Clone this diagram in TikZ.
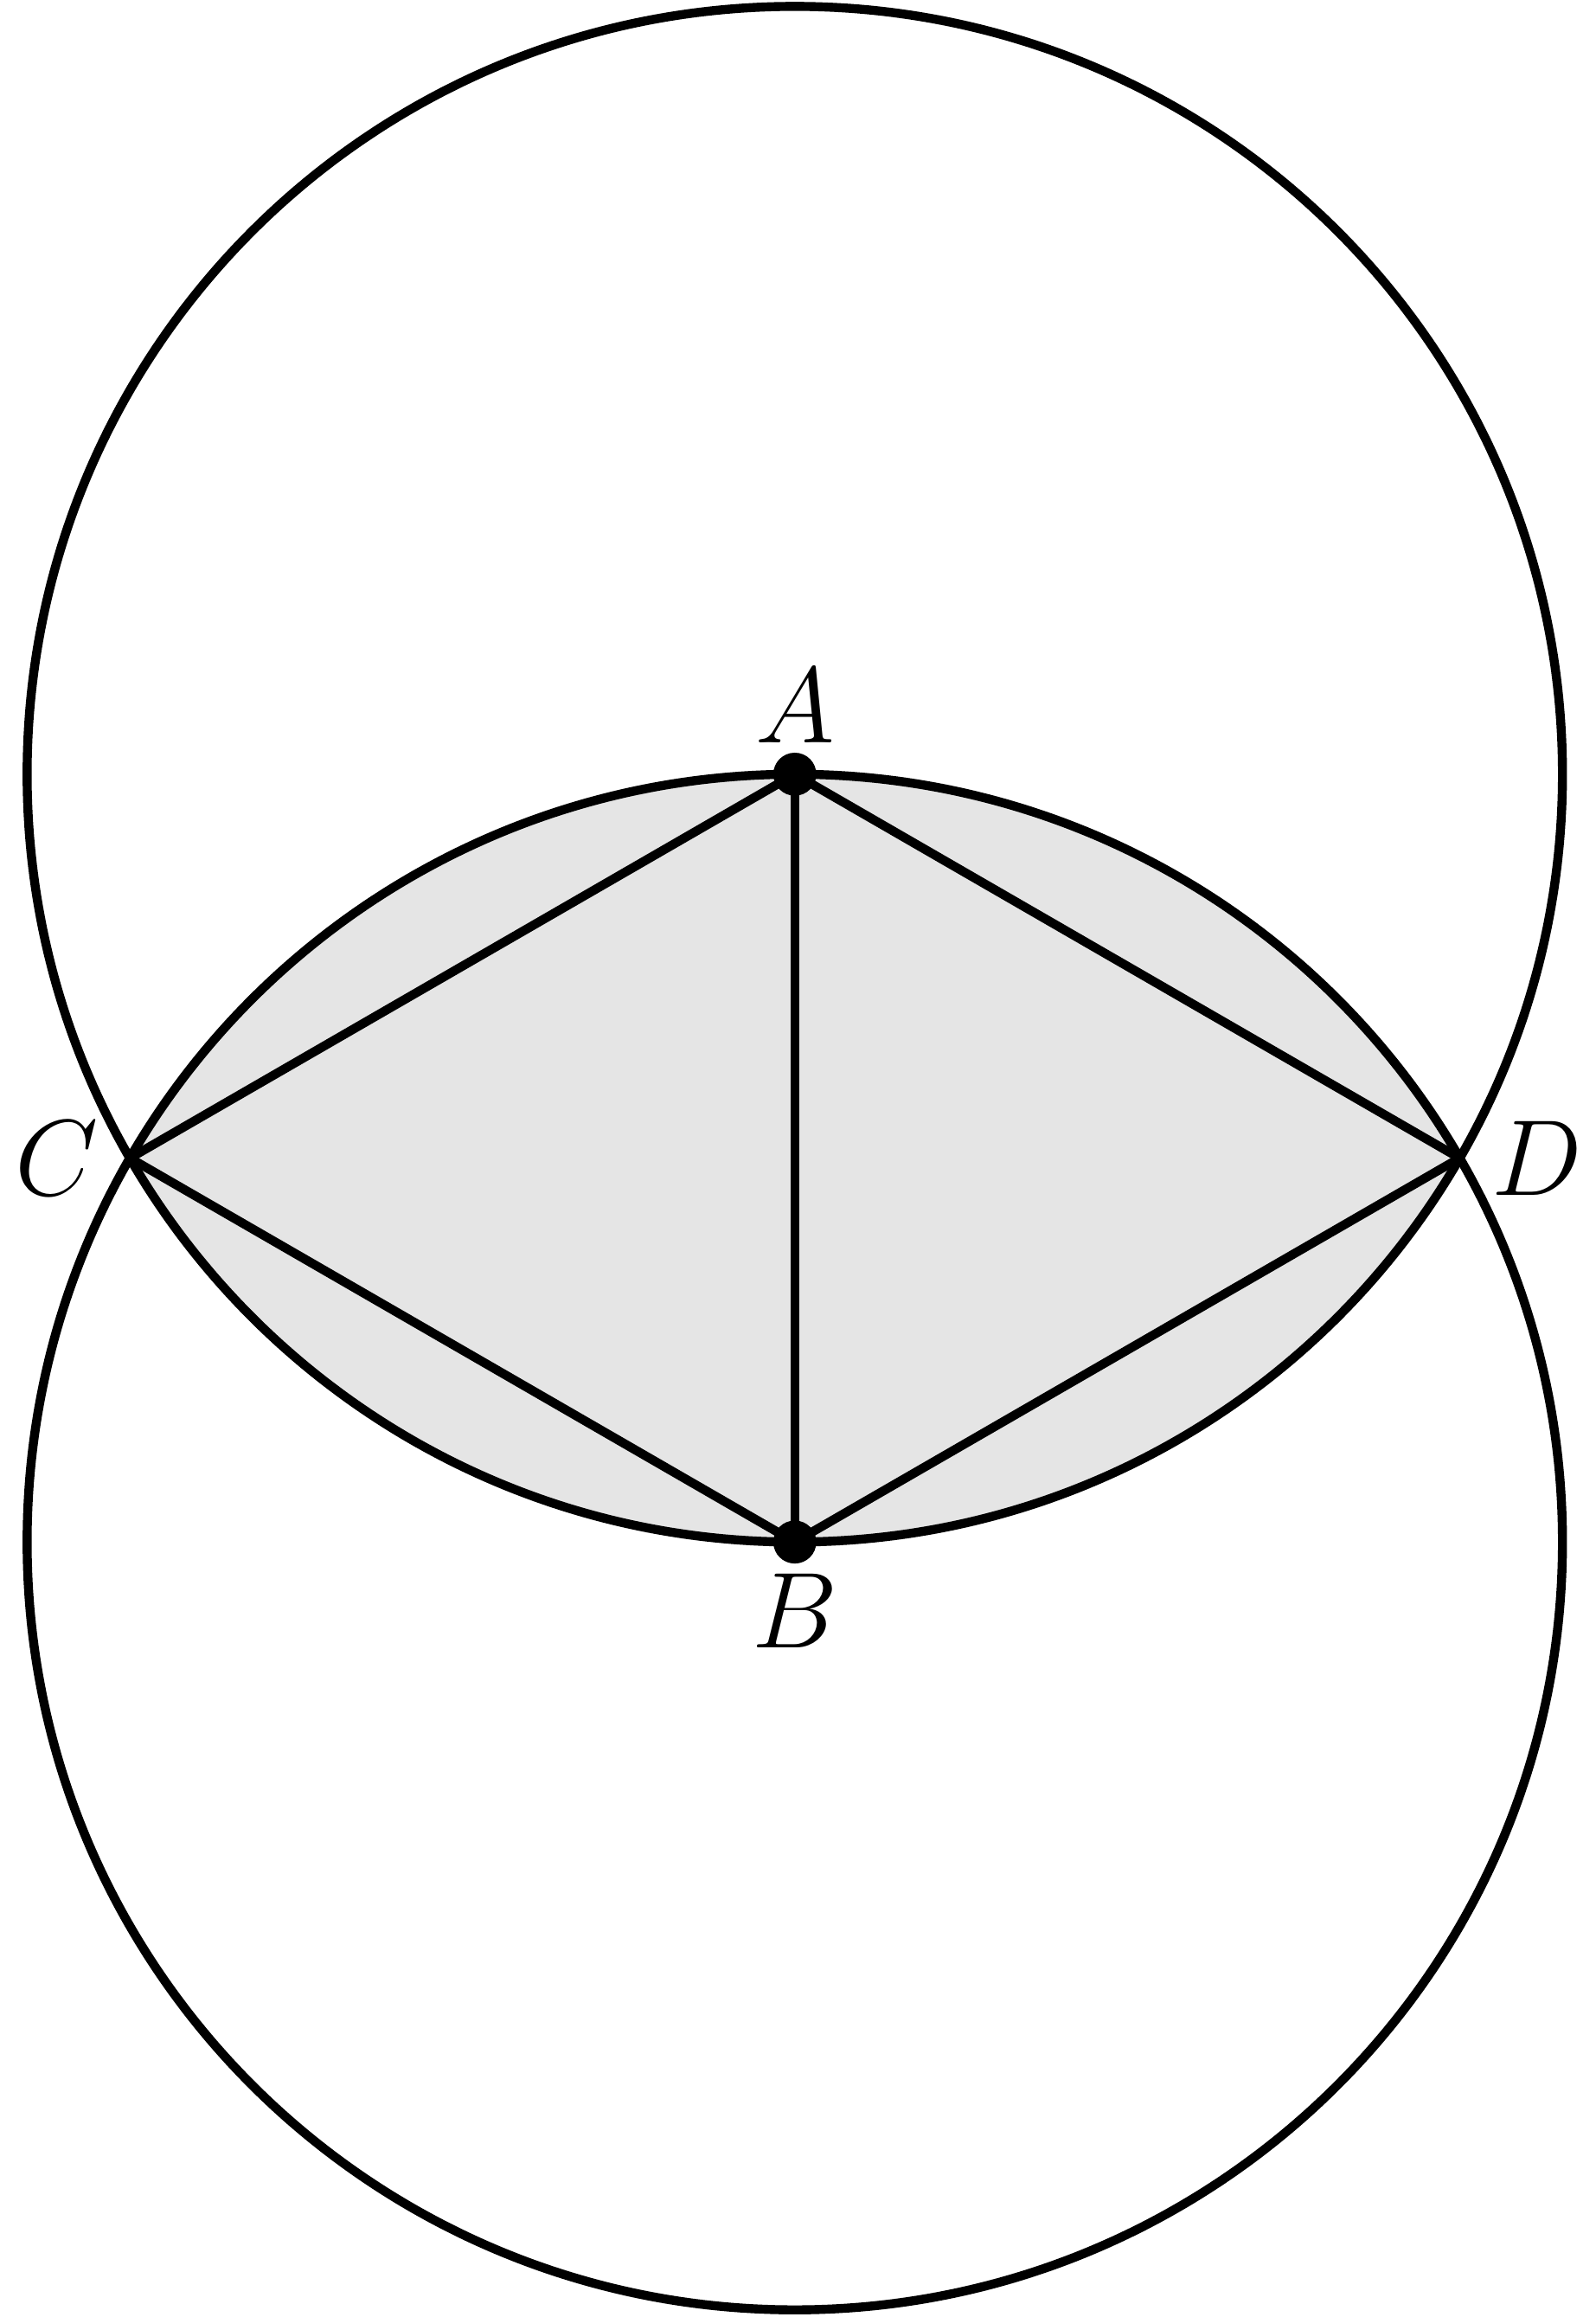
\documentclass[tikz,border=0pt]{standalone}
\usetikzlibrary{calc}
\begin{document}
\begin{tikzpicture}[
  geo/.style={line width=1pt, line join=round},
  lensfill/.style={fill=black!10},
  ptdot/.style={fill=black},
  lbl/.style={font=\large}
]
\useasboundingbox (-3.106,-6.028) rectangle (3.130,3.025);
\coordinate (A) at (0,0);
\coordinate (B) at (0,-3);
\coordinate (C) at ($(A)+(210:3)$);
\coordinate (D) at ($(A)+(330:3)$);
% lens
\path[lensfill] (D) arc[start angle=30, end angle=150, radius=3] arc[start angle=210, end angle=330, radius=3] -- cycle;
% circles
\draw[geo] (A) circle[radius=3];
\draw[geo] (B) circle[radius=3];
% segments
\draw[geo] (A) -- (C);
\draw[geo] (A) -- (D);
\draw[geo] (A) -- (B);
\draw[geo] (B) -- (C);
\draw[geo] (B) -- (D);
% points
\fill[ptdot] (A) circle[radius=0.084];
\fill[ptdot] (B) circle[radius=0.084];
\node[lbl, above] (lA) at (A) {$A$};
\node[lbl, below] (lB) at (B) {$B$};
\node[lbl, left] (lC) at (C) {$C$};
\node[lbl, right] (lD) at (D) {$D$};
\end{tikzpicture}
\end{document}
